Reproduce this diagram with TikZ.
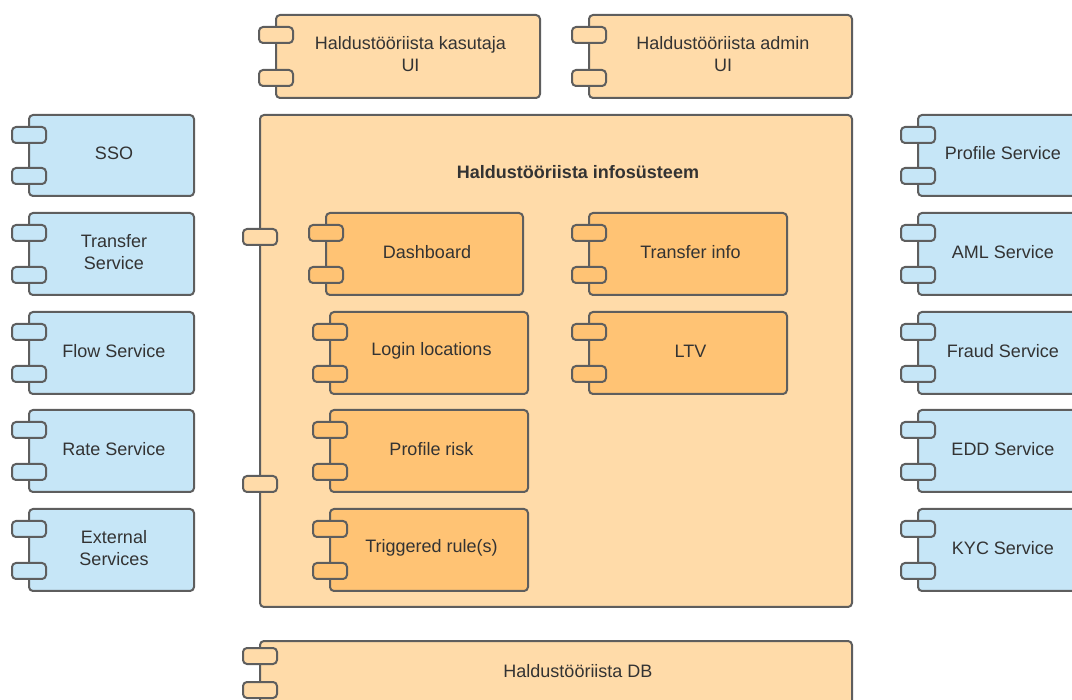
\documentclass[tikz,border=0pt]{standalone}
\usepackage{fontspec}
\setmainfont{Liberation Sans}
\definecolor{bluef}{HTML}{C6E6F7}
\definecolor{orl}{HTML}{FFDBA9}
\definecolor{ord}{HTML}{FFC374}
\definecolor{strk}{HTML}{5E5E5E}
\definecolor{txt}{HTML}{333333}
\tikzset{
  comp/.style={draw=strk, line width=2pt, rounded corners=4pt, inner sep=0pt, outer sep=0pt},
  tab/.style={draw=strk, line width=2pt, rounded corners=4pt, inner sep=0pt, outer sep=0pt,
    minimum width=34pt, minimum height=16pt},
  lbl/.style={text=txt, font=\fontsize{18}{22}\selectfont, inner sep=0pt, align=center}
}
\newcommand\mycomp[7]{%
  \node[comp, fill=#6, minimum width={(#4-#2)*1pt}, minimum height={(#5-#3)*1pt}] (#1) at ({(#2+#4)/2},{(#3+#5)/2}) {};
  \node[tab, fill=#6] (#1-a) at ([yshift=-20pt]#1.north west) {};
  \node[tab, fill=#6] (#1-b) at ([yshift=20pt]#1.south west) {};
  \node[lbl] (#1-l) at ([xshift=2.5pt,yshift=2pt]#1.center) {#7};
}
\begin{document}
\begin{tikzpicture}[x=1pt,y=-1pt]
\useasboundingbox (0,0) rectangle (1072,700);
\clip (0,0) rectangle (1072,700);
% top UIs
\mycomp{ui1}{276}{15}{540}{98}{orl}{Haldustööriista kasutaja\\UI}
\mycomp{ui2}{589}{15}{852}{98}{orl}{Haldustööriista admin\\UI}
% left services
\mycomp{sso}{29}{115}{194}{196}{bluef}{SSO}
\mycomp{trs}{29}{213}{194}{295}{bluef}{Transfer\\Service}
\mycomp{flow}{29}{312}{194}{394}{bluef}{Flow Service}
\mycomp{rate}{29}{410}{194}{492}{bluef}{Rate Service}
\mycomp{ext}{29}{509}{194}{591}{bluef}{External\\Services}
% right services
\mycomp{prof}{918}{115}{1083}{196}{bluef}{Profile Service}
\mycomp{aml}{918}{213}{1083}{295}{bluef}{AML Service}
\mycomp{fraud}{918}{312}{1083}{394}{bluef}{Fraud Service}
\mycomp{edd}{918}{410}{1083}{492}{bluef}{EDD Service}
\mycomp{kyc}{918}{509}{1083}{591}{bluef}{KYC Service}
% main system
\node[comp, fill=orl, minimum width=592pt, minimum height=492pt] (sys) at (556,361) {};
\node[tab, fill=orl] (sys-a) at ([yshift=-122pt]sys.north west) {};
\node[tab, fill=orl] (sys-b) at ([yshift=123pt]sys.south west) {};
\node[lbl, font=\fontsize{18}{22}\selectfont\bfseries] (title) at (578,172) {Haldustööriista infosüsteem};
% inner components
\mycomp{dash}{326}{213}{523}{295}{ord}{Dashboard}
\mycomp{login}{330}{312}{528}{394}{ord}{Login locations}
\mycomp{risk}{330}{410}{528}{492}{ord}{Profile risk}
\mycomp{trig}{330}{509}{528}{591}{ord}{Triggered rule(s)}
\mycomp{tinfo}{589}{213}{787}{295}{ord}{Transfer info}
\mycomp{ltv}{589}{312}{787}{394}{ord}{LTV}
% DB
\node[comp, fill=orl, minimum width=592pt, minimum height=70pt] (db) at (556,676) {};
\node[tab, fill=orl] (db-a) at ([yshift=-15pt]db.north west) {};
\node[tab, fill=orl] (db-b) at ([yshift=-49pt]db.north west) {};
\node[lbl] (dbl) at (578,671) {Haldustööriista DB};
\end{tikzpicture}
\end{document}
